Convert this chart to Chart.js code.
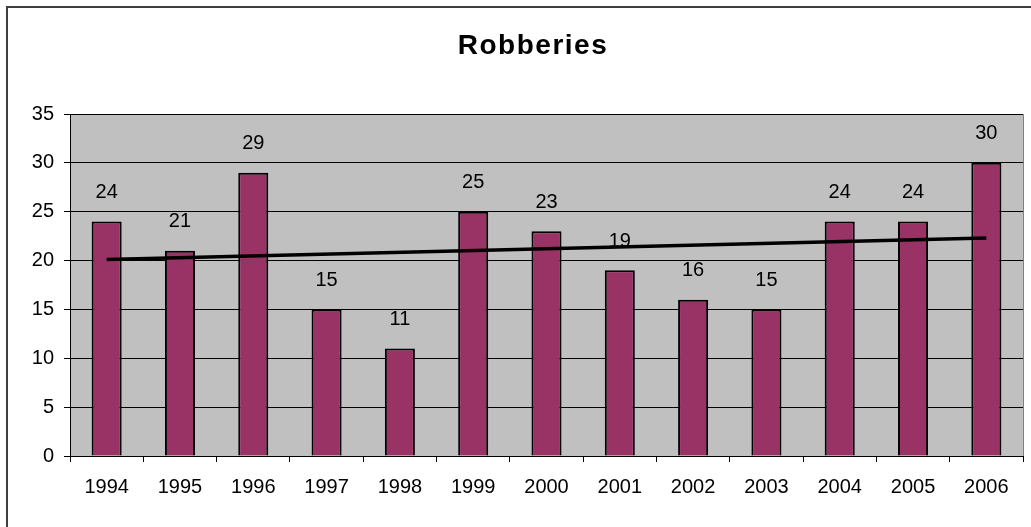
<!DOCTYPE html>
<html>
<head>
<meta charset="utf-8">
<script src="https://cdn.jsdelivr.net/npm/chart.js@4"></script>
<style>
  body { margin: 0; background: #fff; }
  #wrap { width: 1031px; height: 527px; position: relative; }
</style>
</head>
<body>
<div id="wrap"><canvas id="robChart" width="1031" height="527"></canvas></div>
<script>
const years = ['1994', '1995', '1996', '1997', '1998', '1999', '2000', '2001', '2002', '2003', '2004', '2005', '2006'];
const robberies = [24, 21, 29, 15, 11, 25, 23, 19, 16, 15, 24, 24, 30];
// trend line ends
const trendStart = 20.1;
const trendEnd = 22.3;
const chartTitle = 'Robberies';

const FONT = '"Liberation Sans", Arial, sans-serif';

// gray plot area + outer frame + title
const backdrop = {
  id: 'backdrop',
  beforeDraw(chart) {
    const { ctx, chartArea: a } = chart;
    ctx.save();
    ctx.strokeStyle = '#404040';
    ctx.lineWidth = 2;
    ctx.strokeRect(7, 7, 1031, 527);
    ctx.fillStyle = '#c0c0c0';
    ctx.fillRect(a.left, a.top, a.right - a.left, a.bottom - a.top);
    ctx.strokeStyle = '#808080';
    ctx.lineWidth = 1;
    ctx.beginPath();
    ctx.moveTo(a.left, a.top + 0.5);
    ctx.lineTo(a.right + 0.5, a.top + 0.5);
    ctx.lineTo(a.right + 0.5, a.bottom);
    ctx.stroke();

    // title, slightly spaced out like the original
    ctx.font = 'bold 28px ' + FONT;
    ctx.letterSpacing = '1.5px';
    ctx.fillStyle = '#000';
    ctx.textAlign = 'center';
    ctx.textBaseline = 'middle';
    ctx.fillText(chartTitle, 533, 46);
    ctx.restore();
  }
};

// value labels above each bar
const barLabels = {
  id: 'barLabels',
  afterDatasetsDraw(chart) {
    const { ctx } = chart;
    const meta = chart.getDatasetMeta(1);
    ctx.save();
    ctx.font = '20px ' + FONT;
    ctx.fillStyle = '#000';
    ctx.textAlign = 'center';
    ctx.textBaseline = 'middle';
    meta.data.forEach((bar, i) => {
      ctx.fillText(String(robberies[i]), bar.x, bar.y - 29);
    });
    ctx.restore();
  }
};

new Chart(document.getElementById('robChart'), {
  type: 'bar',
  data: {
    labels: years,
    datasets: [
      {
        type: 'line',
        data: [{ x: years[0], y: trendStart }, { x: years[years.length - 1], y: trendEnd }],
        borderColor: '#000',
        borderWidth: 3.5,
        pointRadius: 0,
        order: 0
      },
      {
        data: robberies,
        backgroundColor: '#993366',
        borderColor: '#000',
        borderWidth: 2,
        categoryPercentage: 1,
        barPercentage: 0.41,
        order: 1
      }
    ]
  },
  options: {
    responsive: false,
    animation: false,
    layout: { padding: { left: 0, right: 8, top: 114, bottom: 0 } },
    plugins: {
      legend: { display: false },
      tooltip: { enabled: false },
      title: { display: false }
    },
    scales: {
      x: {
        offset: true,
        grid: { offset: true, drawOnChartArea: false, drawTicks: true, tickLength: 6, color: '#000' },
        border: { color: '#000', width: 1 },
        ticks: { color: '#000', font: { family: FONT, size: 20 }, padding: 13, maxRotation: 0 },
        afterFit(s) { s.height = 71; }
      },
      y: {
        min: 0,
        max: 35,
        ticks: { stepSize: 5, color: '#000', font: { family: FONT, size: 20 }, padding: 10 },
        grid: { color: '#000', lineWidth: 1, tickLength: 6 },
        border: { color: '#000', width: 1 },
        afterFit(s) { s.width = 70; }
      }
    }
  },
  plugins: [backdrop, barLabels]
});
</script>
</body>
</html>
